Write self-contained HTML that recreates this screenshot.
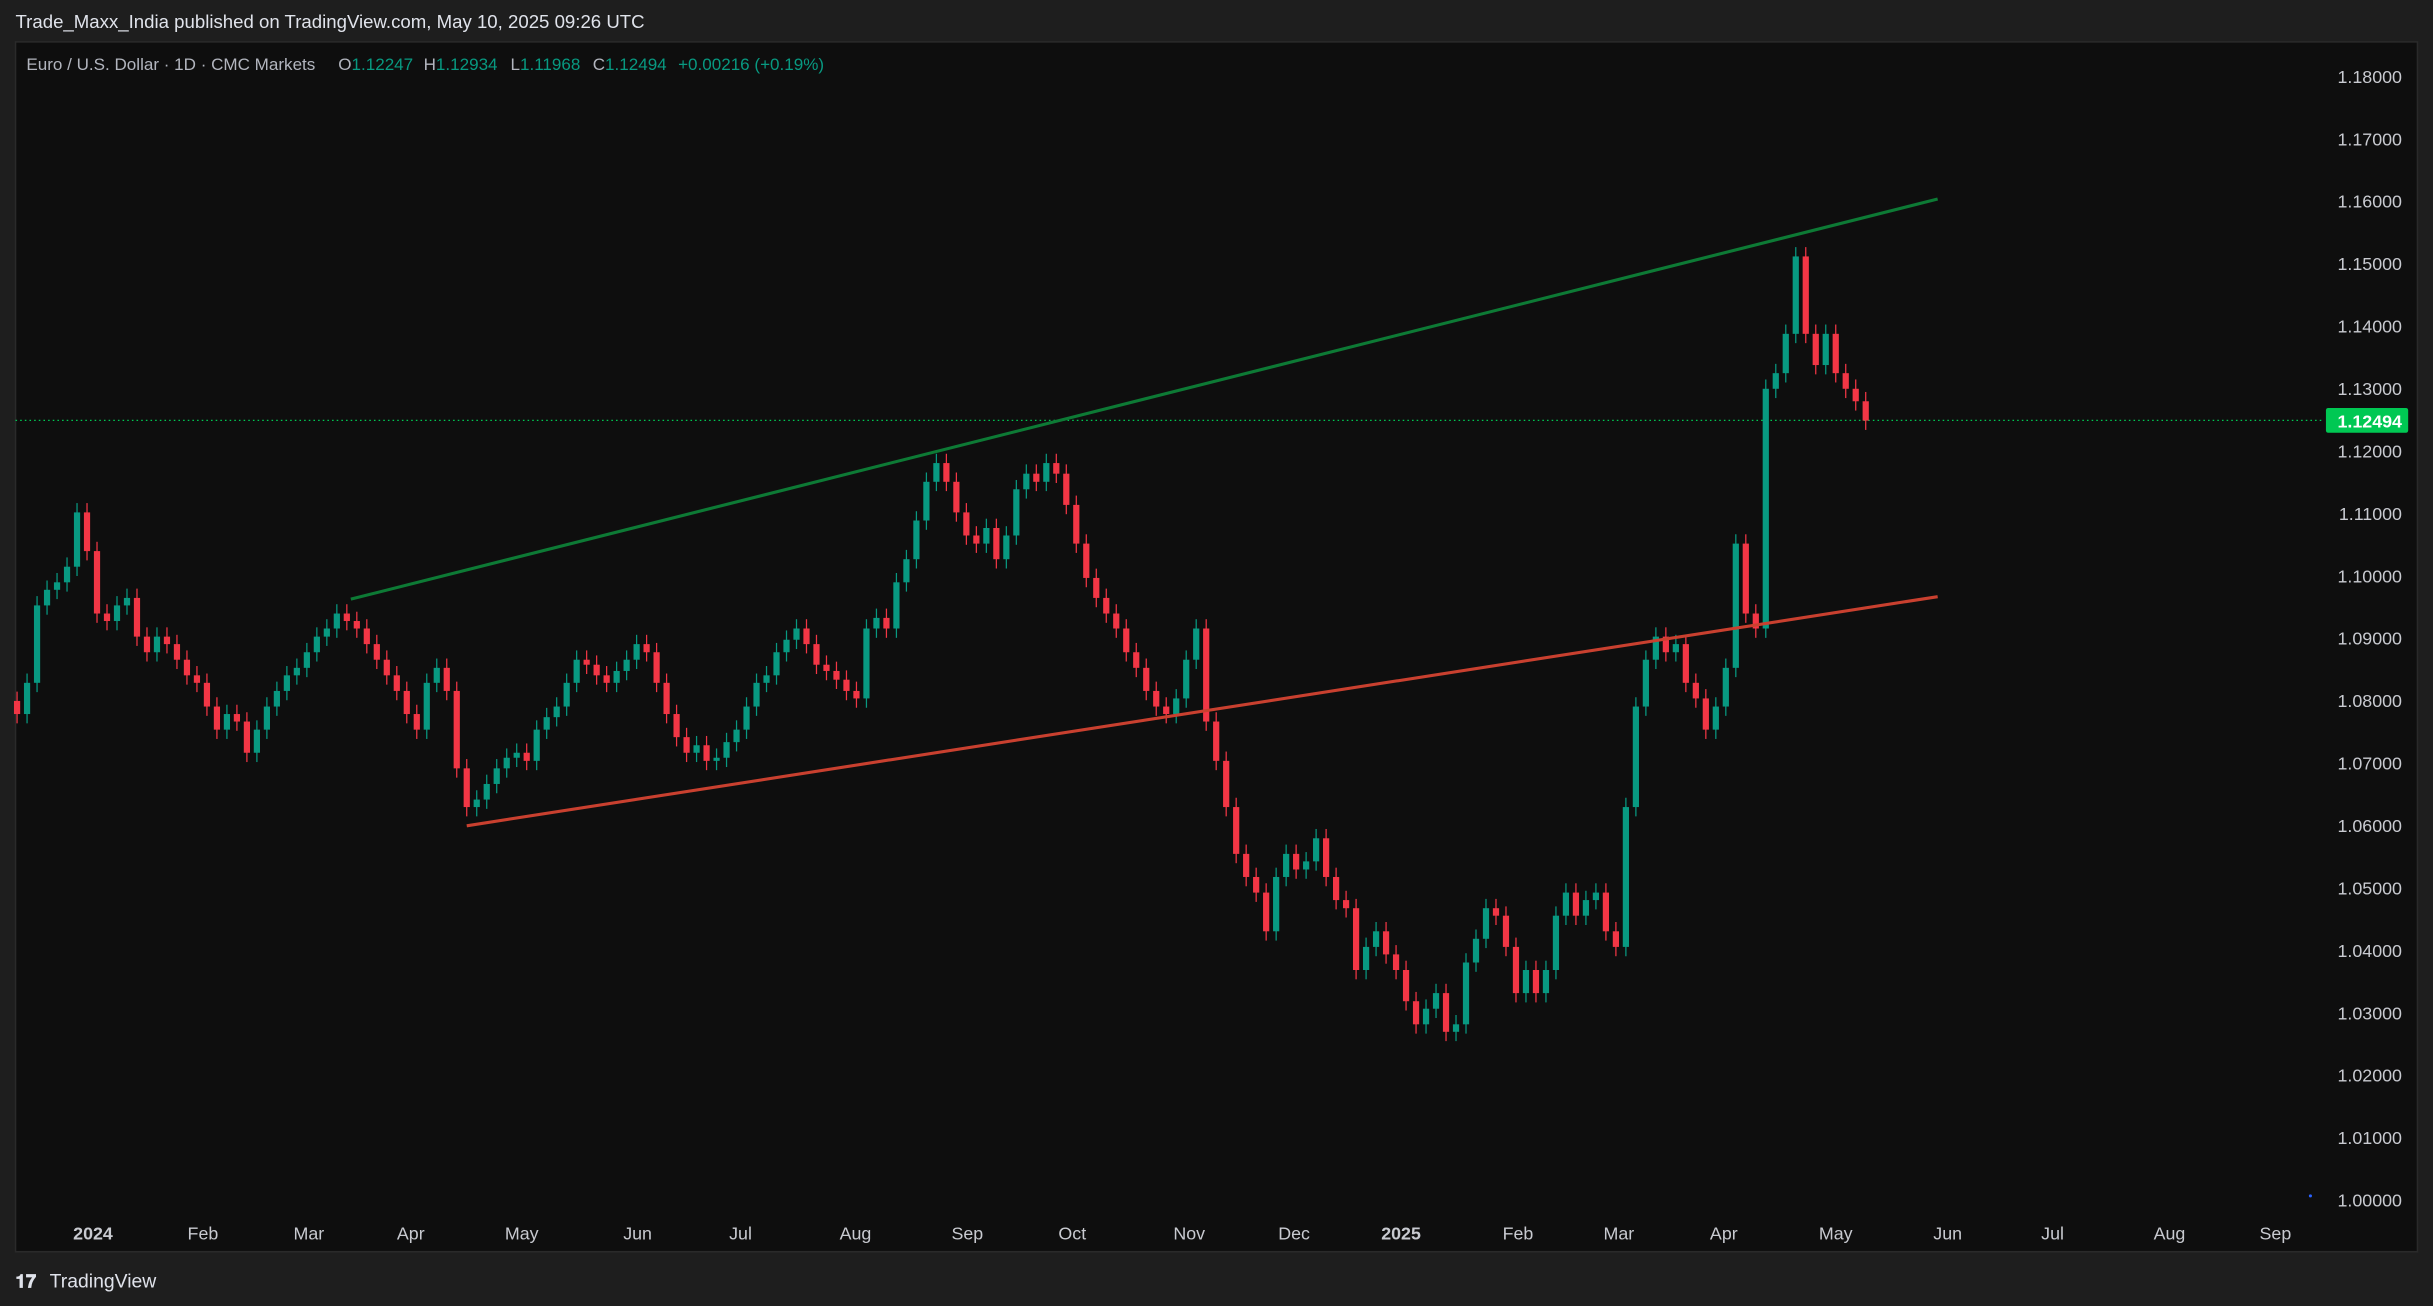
<!DOCTYPE html>
<html><head><meta charset="utf-8">
<style>
html,body{margin:0;padding:0;background:#1e1e1e;}
svg{display:block;font-family:"Liberation Sans",sans-serif;}
</style></head>
<body>
<svg id="chart" width="2433" height="1306" viewBox="0 0 1568 842" preserveAspectRatio="none" xmlns="http://www.w3.org/2000/svg">
  <rect x="0" y="0" width="1568" height="842" fill="#1e1e1e"/>
  <text x="10" y="18" font-size="12" fill="#e0e3eb">Trade_Maxx_India published on TradingView.com, May 10, 2025 09:26 UTC</text>
  <rect x="10" y="27" width="1548" height="780" fill="#0e0e0e" stroke="#2a2a2a" stroke-width="1"/>
  <g id="plot"></g>
  <g id="yaxis"></g>
  <g id="xaxis"></g>
  <g font-size="11">
    <text x="17" y="45" fill="#b2b5be">Euro / U.S. Dollar · 1D · CMC Markets</text>
    <text x="218" y="45" fill="#b2b5be">O<tspan fill="#089981">1.12247</tspan></text>
    <text x="273" y="45" fill="#b2b5be">H<tspan fill="#089981">1.12934</tspan></text>
    <text x="329" y="45" fill="#b2b5be">L<tspan fill="#089981">1.11968</tspan></text>
    <text x="382" y="45" fill="#b2b5be">C<tspan fill="#089981">1.12494</tspan></text>
    <text x="437" y="45" fill="#089981">+0.00216 (+0.19%)</text>
  </g>
  <circle cx="1489" cy="771" r="1" fill="#2962ff"/>
  <g>
    <text x="10" y="830" font-size="12" font-weight="bold" fill="#e0e3eb">𝟏𝟕</text>
    <text x="32" y="830" font-size="12.5" fill="#e0e3eb">TradingView</text>
  </g>
</svg>
<script>
const closes = [1.0779,1.0829,1.0953,1.0978,1.0990,1.1015,1.1102,1.1040,1.0940,1.0928,
1.0953,1.0965,1.0903,1.0878,1.0903,1.0891,1.0866,1.0841,1.0829,1.0791,
1.0754,1.0779,1.0767,1.0717,1.0754,1.0791,1.0816,1.0841,1.0853,1.0878,
1.0903,1.0916,1.0940,1.0928,1.0916,1.0891,1.0866,1.0841,1.0816,1.0779,
1.0754,1.0829,1.0853,1.0816,1.0692,1.0630,1.0642,1.0667,1.0692,1.0709,
1.0717,1.0704,1.0754,1.0774,1.0791,1.0829,1.0866,1.0858,1.0841,1.0829,
1.0848,1.0866,1.0891,1.0878,1.0829,1.0779,1.0742,1.0717,1.0729,1.0704,
1.0709,1.0734,1.0754,1.0791,1.0829,1.0841,1.0878,1.0898,1.0916,1.0891,
1.0858,1.0848,1.0834,1.0816,1.0804,1.0916,1.0933,1.0916,1.0990,1.1027,
1.1089,1.1151,1.1181,1.1151,1.1102,1.1065,1.1052,1.1077,1.1027,1.1065,
1.1139,1.1164,1.1151,1.1181,1.1164,1.1114,1.1052,1.0997,1.0965,1.0940,
1.0916,1.0878,1.0853,1.0816,1.0791,1.0779,1.0804,1.0866,1.0916,1.0767,
1.0704,1.0630,1.0555,1.0518,1.0493,1.0431,1.0518,1.0555,1.0530,1.0543,
1.0580,1.0518,1.0481,1.0468,1.0369,1.0406,1.0431,1.0394,1.0369,1.0319,
1.0282,1.0307,1.0332,1.0270,1.0282,1.0381,1.0419,1.0468,1.0456,1.0406,
1.0332,1.0369,1.0332,1.0369,1.0456,1.0493,1.0456,1.0481,1.0493,1.0431,
1.0406,1.0630,1.0791,1.0866,1.0903,1.0878,1.0891,1.0829,1.0804,1.0754,
1.0791,1.0853,1.1052,1.0940,1.0916,1.1300,1.1325,1.1388,1.1512,1.1388,
1.1338,1.1388,1.1325,1.1300,1.1280,1.1249];
const firstOpen = 1.0800;
const priceTicks = [1.18,1.17,1.16,1.15,1.14,1.13,1.12,1.11,1.10,1.09,1.08,1.07,1.06,1.05,1.04,1.03,1.02,1.01,1.00];
const monthLabels = ["2024","Feb","Mar","Apr","May","Jun","Jul","Aug","Sep","Oct","Nov","Dec","2025","Feb","Mar","Apr","May","Jun","Jul","Aug","Sep"];
const monthIndex = [7.6,18.6,29.2,39.4,50.5,62.1,72.4,83.9,95.1,105.6,117.3,127.8,138.5,150.2,160.3,170.8,182.0,193.2,203.7,215.4,226.0];
const greenLine = [33.4,1.0963,192.2,1.1604];
const redLine = [45.0,1.0600,192.2,1.0967];
const lastPrice = 1.12494;

const NS="http://www.w3.org/2000/svg";
function yS(p){return 49.4+(1.18-p)*4025;}
function xS(i){return 11+i*6.44;}
function mk(tag,attrs,parent){const e=document.createElementNS(NS,tag);for(const k in attrs)e.setAttribute(k,attrs[k]);parent.appendChild(e);return e;}
const plot=document.getElementById('plot'), yax=document.getElementById('yaxis'), xax=document.getElementById('xaxis');

const lp=mk('line',{x1:10,x2:1498,y1:yS(lastPrice),y2:yS(lastPrice),stroke:'#00c853','stroke-width':0.8,'stroke-dasharray':'1 2'},plot);



let prev=firstOpen;
closes.forEach((c,i)=>{
  const o=prev; prev=c;
  const up=c>=o, col=up?'#089981':'#f23645';
  const x=xS(i), yt=yS(Math.max(o,c)), yb=yS(Math.min(o,c));
  const g=mk('g',{},plot);
  
  
  mk('line',{x1:x,x2:x,y1:yt-6,y2:yb+6,stroke:col,'stroke-width':0.8},g);
  mk('rect',{x:x-2,y:yt,width:4,height:Math.max(1,yb-yt),fill:col},g);
});

const gl=mk('line',{x1:xS(greenLine[0]),y1:yS(greenLine[1]),x2:xS(greenLine[2]),y2:yS(greenLine[3]),stroke:'#0d7a35','stroke-width':2},plot);


const rl=mk('line',{x1:xS(redLine[0]),y1:yS(redLine[1]),x2:xS(redLine[2]),y2:yS(redLine[3]),stroke:'#c9402f','stroke-width':2},plot);



priceTicks.forEach(p=>{
  const t=mk('text',{x:1548,y:yS(p)+4,'font-size':11.5,fill:'#c8cad0','text-anchor':'end'},yax);
  t.textContent=p.toFixed(5);
  
  
});
const lb=mk('rect',{x:1499,y:yS(lastPrice)-8,width:53,height:16,rx:1.5,fill:'#00c853'},yax);


const lt=mk('text',{x:1548,y:yS(lastPrice)+4.5,'font-size':11.5,'font-weight':'bold',fill:'#ffffff','text-anchor':'end'},yax);
lt.textContent=lastPrice.toFixed(5);



monthLabels.forEach((m,i)=>{
  const t=mk('text',{x:xS(monthIndex[i]),y:799,'font-size':11.5,fill:'#c8cad0','text-anchor':'middle','font-weight':(m.length===4?'bold':'normal')},xax);
  t.textContent=m;
  
  
});
</script>
</body></html>
